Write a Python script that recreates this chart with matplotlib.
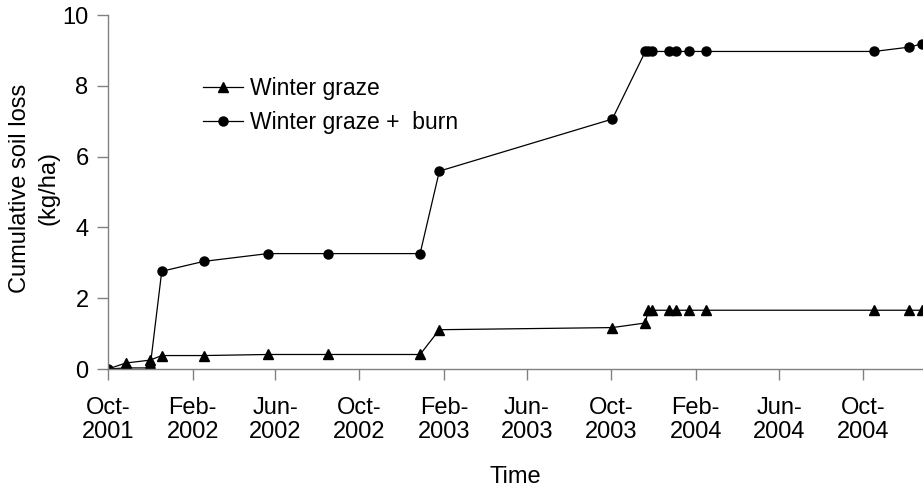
import matplotlib
matplotlib.use("Agg")
import matplotlib.pyplot as plt
import matplotlib.dates as mdates
import pandas as pd

plt.rcParams['font.family'] = ['Liberation Sans', 'DejaVu Sans']

# sampling dates (shared by both treatments)
dates = pd.to_datetime([
    "2001-10-01", "2001-10-27", "2001-12-01", "2001-12-18", "2002-02-17",
    "2002-05-21", "2002-08-16", "2002-12-28", "2003-01-25", "2003-10-03",
    "2003-11-20", "2003-11-24", "2003-11-29", "2003-12-25", "2004-01-04",
    "2004-01-22", "2004-02-16", "2004-10-17", "2004-12-06", "2004-12-25",
])

graze = [0.0, 0.17, 0.25, 0.38, 0.38, 0.41, 0.41, 0.41, 1.11, 1.17,
         1.30, 1.66, 1.66, 1.66, 1.66, 1.66, 1.66, 1.66, 1.66, 1.66]
graze_burn = [0.0, 0.03, 0.03, 2.76, 3.04, 3.26, 3.26, 3.26, 5.59, 7.06,
              8.97, 8.97, 8.97, 8.97, 8.97, 8.97, 8.97, 8.97, 9.09, 9.18]

x_start = pd.Timestamp("2001-10-01")
x_end = pd.Timestamp("2004-12-27")

fig = plt.figure(figsize=(9.23, 4.86), dpi=100)
ax = fig.add_axes([108 / 923, 1 - 369 / 486, 815 / 923, 354 / 486])

ax.plot(dates, graze, color='black', lw=0.9, marker='^', ms=7.5,
        label='Winter graze')
ax.plot(dates, graze_burn, color='black', lw=0.9, marker='o', ms=6.5,
        label='Winter graze +  burn')

ax.set_xlim(x_start, x_end)
ax.set_ylim(0, 10)
ax.set_yticks([0, 2, 4, 6, 8, 10])

ax.xaxis.set_major_locator(mdates.MonthLocator(bymonth=[2, 6, 10]))
ax.xaxis.set_major_formatter(mdates.DateFormatter('%b-\n%Y'))
for lab in ax.get_xticklabels():
    lab.set_linespacing(1.15)

for side in ['top', 'right']:
    ax.spines[side].set_visible(False)
for side in ['left', 'bottom']:
    ax.spines[side].set_color('#808080')
    ax.spines[side].set_linewidth(1.0)

ax.tick_params(axis='both', colors='#808080', labelcolor='black',
               labelsize=17, length=8, width=1.0, direction='out')
ax.tick_params(axis='x', pad=12)
ax.tick_params(axis='y', pad=6)

ax.set_xlabel('Time', fontsize=17, labelpad=16)
fig.text(34 / 923, 1 - 188 / 486, 'Cumulative soil loss\n(kg/ha)',
         fontsize=17, rotation=90, ha='center', va='center',
         multialignment='center', linespacing=1.4)

ax.legend(loc='center left', bbox_to_anchor=(0.1166, 0.744), frameon=False,
          fontsize=16.5, borderpad=0, borderaxespad=0, handlelength=1.75,
          handletextpad=0.3, labelspacing=0.45)

fig.savefig('out.png', dpi=100)
